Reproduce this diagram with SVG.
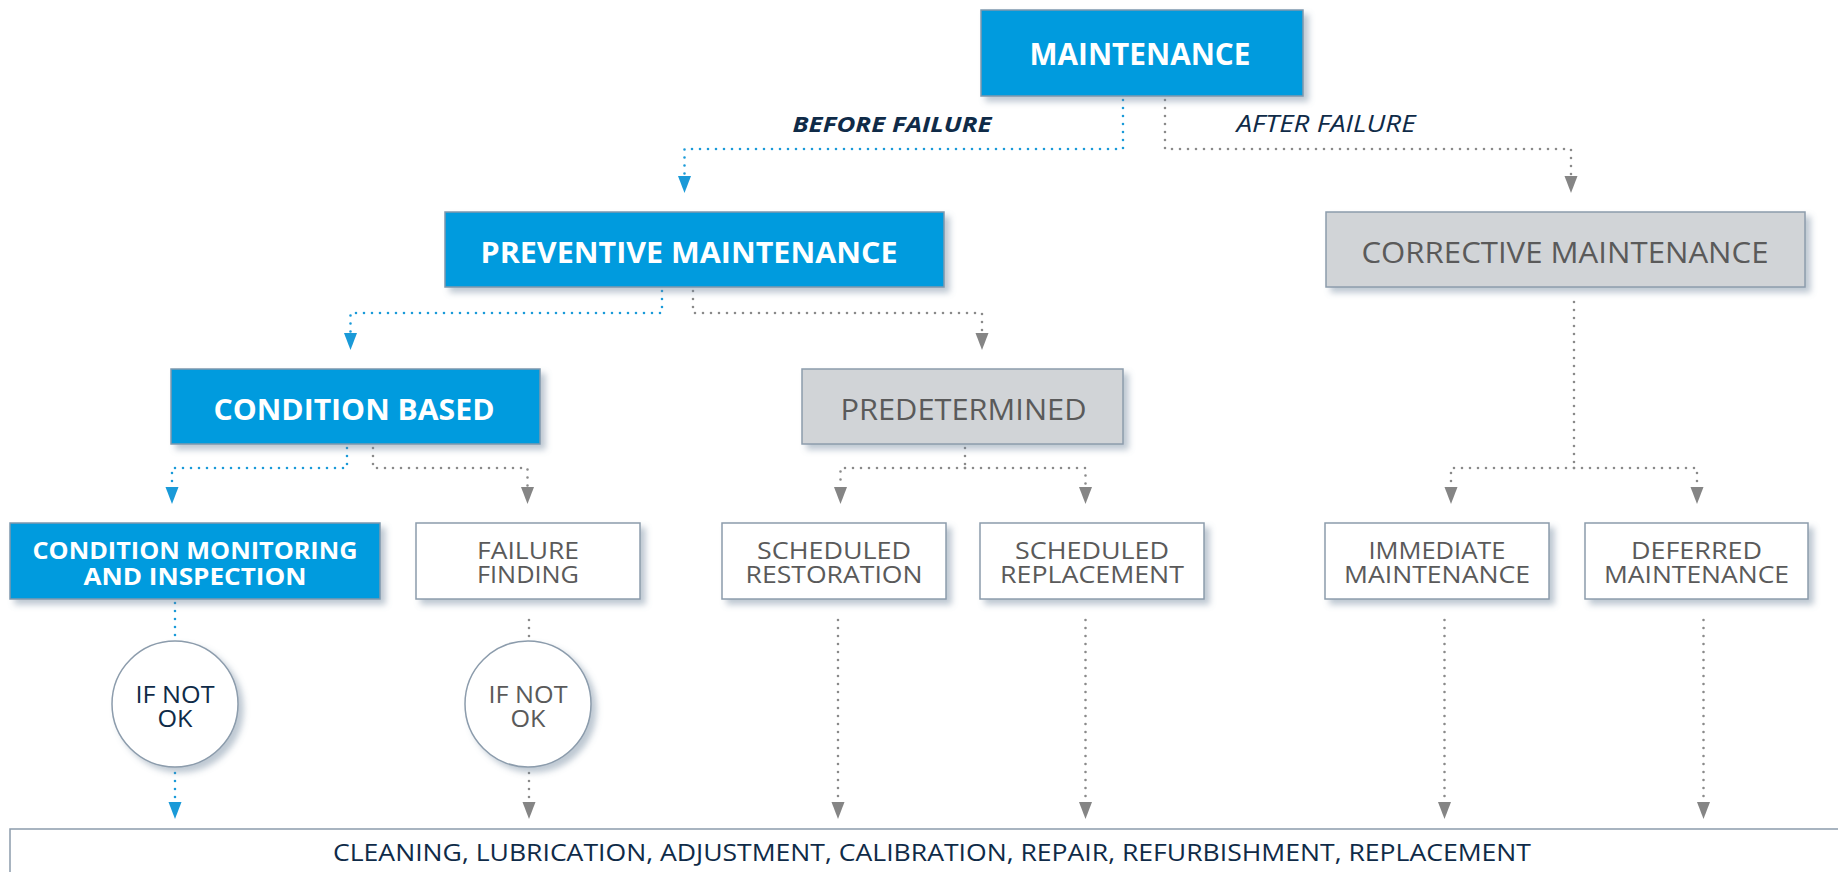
<svg xmlns="http://www.w3.org/2000/svg" width="1838" height="872" viewBox="0 0 1838 872">
<defs>
<filter id="sh" x="-10%" y="-20%" width="130%" height="150%">
<feDropShadow dx="5" dy="5" stdDeviation="3" flood-color="#6f849b" flood-opacity="0.45"/>
</filter>
<marker id="ab" viewBox="0 -7 17 14" refX="0" refY="0" markerWidth="17" markerHeight="14" markerUnits="userSpaceOnUse" orient="auto">
<path d="M0,-6.5 L17,0 L0,6.5 z" fill="#1a9ad8"/>
</marker>
<marker id="ag" viewBox="0 -7 17 14" refX="0" refY="0" markerWidth="17" markerHeight="14" markerUnits="userSpaceOnUse" orient="auto">
<path d="M0,-6.5 L17,0 L0,6.5 z" fill="#858585"/>
</marker>
</defs>
<style>
.blue{fill:#009bde;stroke:#7f98ad;stroke-width:1.5;filter:url(#sh)}
.grey{fill:#d1d4d7;stroke:#8c9cac;stroke-width:1.5;filter:url(#sh)}
.white{fill:#ffffff;stroke:#8c9cac;stroke-width:1.5;filter:url(#sh)}
text{font-family:"Open Sans","Liberation Sans",sans-serif}
.tb{font-weight:700;fill:#ffffff;text-anchor:middle}
.tg{font-weight:400;fill:#5a5a5a;text-anchor:middle}
.tn{font-weight:400;fill:#0f2b48;text-anchor:middle}
.cb{fill:none;stroke:#1a9ad8;stroke-width:2.6;stroke-linecap:round;stroke-dasharray:0 8}
.cg{fill:none;stroke:#8a8a8a;stroke-width:2.6;stroke-linecap:round;stroke-dasharray:0 8}
</style>
<rect width="1838" height="872" fill="#ffffff"/>
<g id="connectors">
<path class="cb" d="M1123,100 V149 H684.5 V176" marker-end="url(#ab)"/>
<path class="cg" d="M1165,100 V149 H1571 V176" marker-end="url(#ag)"/>
<path class="cb" d="M662,291 V313 H350.5 V333" marker-end="url(#ab)"/>
<path class="cg" d="M693,291 V313 H982 V333" marker-end="url(#ag)"/>
<path class="cb" d="M347,448 V468 H172 V487" marker-end="url(#ab)"/>
<path class="cg" d="M373,448 V468 H527.5 V487" marker-end="url(#ag)"/>
<path class="cg" d="M965,448 V468"/>
<path class="cg" d="M965,468 H840.5 V487" marker-end="url(#ag)"/>
<path class="cg" d="M965,468 H1085.5 V487" marker-end="url(#ag)"/>
<path class="cg" d="M1574,302 V468"/>
<path class="cg" d="M1574,468 H1451 V487" marker-end="url(#ag)"/>
<path class="cg" d="M1574,468 H1697 V487" marker-end="url(#ag)"/>
<path class="cb" d="M175,603 V639"/>
<path class="cb" d="M175,773 V802" marker-end="url(#ab)"/>
<path class="cg" d="M529,620 V639"/>
<path class="cg" d="M529,773 V802" marker-end="url(#ag)"/>
<path class="cg" d="M838,620 V802" marker-end="url(#ag)"/>
<path class="cg" d="M1085.5,620 V802" marker-end="url(#ag)"/>
<path class="cg" d="M1444.5,620 V802" marker-end="url(#ag)"/>
<path class="cg" d="M1703.5,620 V802" marker-end="url(#ag)"/>
</g>
<g id="labels">
<text x="892" y="132" font-size="22" font-weight="700" font-style="italic" fill="#0f2b48" text-anchor="middle" textLength="199" lengthAdjust="spacingAndGlyphs">BEFORE FAILURE</text>
<text x="1326" y="132" font-size="23" font-style="italic" fill="#0f2b48" text-anchor="middle" textLength="179" lengthAdjust="spacingAndGlyphs">AFTER FAILURE</text>
</g>
<g id="maintenance">
<rect class="blue" x="981" y="10" width="322" height="86"/>
<text class="tb" x="1140" y="65" font-size="30" textLength="221" lengthAdjust="spacingAndGlyphs">MAINTENANCE</text>
</g>
<g id="preventive">
<rect class="blue" x="445" y="212" width="499" height="75"/>
<text class="tb" x="689" y="263" font-size="29" textLength="417" lengthAdjust="spacingAndGlyphs">PREVENTIVE MAINTENANCE</text>
</g>
<g id="corrective">
<rect class="grey" x="1326" y="212" width="479" height="75"/>
<text class="tg" x="1565" y="263" font-size="29" textLength="407" lengthAdjust="spacingAndGlyphs">CORRECTIVE MAINTENANCE</text>
</g>
<g id="condition-based">
<rect class="blue" x="171" y="369" width="369" height="75"/>
<text class="tb" x="354" y="420" font-size="29" textLength="281" lengthAdjust="spacingAndGlyphs">CONDITION BASED</text>
</g>
<g id="predetermined">
<rect class="grey" x="802" y="369" width="321" height="75"/>
<text class="tg" x="963.5" y="420" font-size="29" textLength="246" lengthAdjust="spacingAndGlyphs">PREDETERMINED</text>
</g>
<g id="condition-monitoring">
<rect class="blue" x="10" y="523" width="370" height="76"/>
<text class="tb" x="195" y="559" font-size="24" textLength="325" lengthAdjust="spacingAndGlyphs">CONDITION MONITORING</text>
<text class="tb" x="195" y="585" font-size="24" textLength="223" lengthAdjust="spacingAndGlyphs">AND INSPECTION</text>
</g>
<g id="failure-finding">
<rect class="white" x="416" y="523" width="224" height="76"/>
<text class="tg" x="528" y="559" font-size="24" textLength="102" lengthAdjust="spacingAndGlyphs">FAILURE</text>
<text class="tg" x="528" y="583" font-size="24" textLength="102" lengthAdjust="spacingAndGlyphs">FINDING</text>
</g>
<g id="scheduled-restoration">
<rect class="white" x="722" y="523" width="224" height="76"/>
<text class="tg" x="834" y="559" font-size="24" textLength="154" lengthAdjust="spacingAndGlyphs">SCHEDULED</text>
<text class="tg" x="834" y="583" font-size="24" textLength="177" lengthAdjust="spacingAndGlyphs">RESTORATION</text>
</g>
<g id="scheduled-replacement">
<rect class="white" x="980" y="523" width="224" height="76"/>
<text class="tg" x="1092" y="559" font-size="24" textLength="154" lengthAdjust="spacingAndGlyphs">SCHEDULED</text>
<text class="tg" x="1092" y="583" font-size="24" textLength="184" lengthAdjust="spacingAndGlyphs">REPLACEMENT</text>
</g>
<g id="immediate">
<rect class="white" x="1325" y="523" width="224" height="76"/>
<text class="tg" x="1437" y="559" font-size="24" textLength="137" lengthAdjust="spacingAndGlyphs">IMMEDIATE</text>
<text class="tg" x="1437" y="583" font-size="24" textLength="186" lengthAdjust="spacingAndGlyphs">MAINTENANCE</text>
</g>
<g id="deferred">
<rect class="white" x="1585" y="523" width="223" height="76"/>
<text class="tg" x="1696.5" y="559" font-size="24" textLength="131" lengthAdjust="spacingAndGlyphs">DEFERRED</text>
<text class="tg" x="1696.5" y="583" font-size="24" textLength="185" lengthAdjust="spacingAndGlyphs">MAINTENANCE</text>
</g>
<g id="if-not-ok-1">
<circle class="white" cx="175" cy="704" r="63"/>
<text class="tn" x="175" y="703" font-size="24" textLength="79" lengthAdjust="spacingAndGlyphs">IF NOT</text>
<text class="tn" x="175" y="727" font-size="24" textLength="35" lengthAdjust="spacingAndGlyphs">OK</text>
</g>
<g id="if-not-ok-2">
<circle class="white" cx="528" cy="704" r="63"/>
<text class="tg" x="528" y="703" font-size="24" textLength="79" lengthAdjust="spacingAndGlyphs">IF NOT</text>
<text class="tg" x="528" y="727" font-size="24" textLength="35" lengthAdjust="spacingAndGlyphs">OK</text>
</g>
<g id="actions">
<rect x="10" y="829" width="1850" height="60" fill="#ffffff" stroke="#8c9cac" stroke-width="1.5"/>
<text class="tn" x="932" y="861" font-size="24" textLength="1198" lengthAdjust="spacingAndGlyphs">CLEANING, LUBRICATION, ADJUSTMENT, CALIBRATION, REPAIR, REFURBISHMENT, REPLACEMENT</text>
</g>
</svg>
